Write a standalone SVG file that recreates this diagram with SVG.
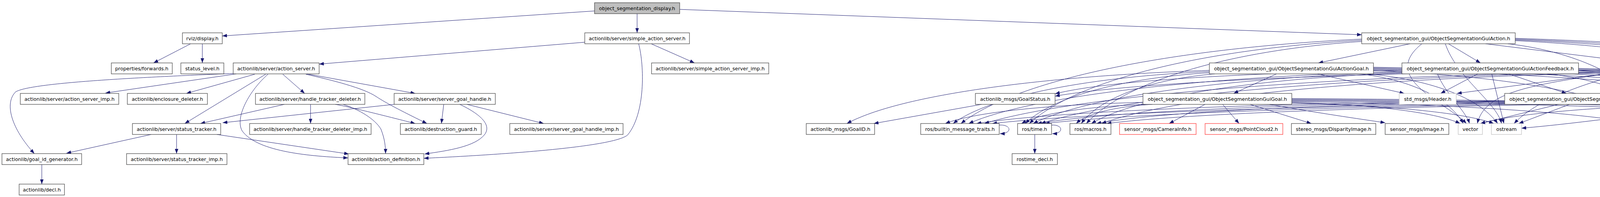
<svg xmlns="http://www.w3.org/2000/svg" width="5503" height="504" viewBox="0 0 5503 504">
<defs>
<marker id="a" viewBox="0 0 12 9" refX="12" refY="4.5" markerWidth="12" markerHeight="9" markerUnits="userSpaceOnUse" orient="auto"><path d="M0,0 L12,4.5 L0,9 z" fill="#191970"/></marker>
<style>
.n rect{fill:#fff;stroke:#404040;stroke-width:1.2}
.n.top rect{fill:#bfbfbf}
.n.gr rect{stroke:#bfbfbf}
.n.rd rect{stroke:#ff3333}
.n text{font-family:"DejaVu Sans","Liberation Sans",sans-serif;font-size:12.7px;text-anchor:middle;fill:#000}
#edges path{fill:none;stroke:#191970;stroke-width:1;marker-end:url(#a)}
</style>
</defs>
<rect width="5503" height="504" fill="#fff"/>
<g id="edges">
<path d="M1522,28 L569,92"/>
<path d="M1631,35 L1631,84"/>
<path d="M1740,24 L3486,89"/>
<path d="M488,112 L393,161"/>
<path d="M518,112 L518,161"/>
<path d="M1497,108 L817,164"/>
<path d="M1667,112 L1778,161"/>
<path d="M1635,112 C1650,170 1652,290 1607,345 C1575,375 1300,395 1085,405"/>
<path d="M605,189 L270,238"/>
<path d="M597,188 C400,196 80,210 40,235 C10,265 30,330 88,393"/>
<path d="M652,190 L477,239"/>
<path d="M680,190 L473,316"/>
<path d="M686,190 C640,230 600,300 620,335 C660,390 800,400 891,404"/>
<path d="M724,190 L780,239"/>
<path d="M785,189 L1063,239"/>
<path d="M783,190 C850,205 930,225 963,247 C990,265 1040,290 1093,316"/>
<path d="M728,267 L513,316"/>
<path d="M795,267 L795,316"/>
<path d="M858,267 C890,272 1000,300 1063,316"/>
<path d="M878,267 C920,280 960,305 975,330 C985,355 987,375 987,393"/>
<path d="M1009,267 L570,314"/>
<path d="M1136,267 L1130,316"/>
<path d="M1177,267 C1230,292 1260,320 1240,345 C1215,375 1150,385 1087,394"/>
<path d="M1195,267 L1392,316"/>
<path d="M387,344 L170,392"/>
<path d="M452,344 L452,393"/>
<path d="M555,344 L893,394"/>
<path d="M107,421 L107,471"/>
<path d="M2513,267 L2237,316"/>
<path d="M3486,100 C3024,122 2614,197 2460,316"/>
<path d="M3486,103 C3103,124 2763,199 2635,316"/>
<path d="M3486,106 C3169,127 2887,201 2781,316"/>
<path d="M3640,112 C3530,200 3700,260 3754,316"/>
<path d="M3700,112 C3730,200 3830,260 3844,316"/>
<path d="M3860,112 C4037,132 4195,204 4254,316"/>
<path d="M3879,104 C4305,125 4683,199 4825,316"/>
<path d="M3879,102 C4392,123 4849,198 5020,316"/>
<path d="M3879,100 C4481,122 5015,197 5216,316"/>
<path d="M3879,98 C4571,120 5185,196 5416,316"/>
<path d="M3610,112 L3375,161"/>
<path d="M3708,112 L3790,161"/>
<path d="M3803,112 L4200,161"/>
<path d="M3373,189 L3595,239"/>
<path d="M3268,189 L3158,239"/>
<path d="M3096,180 C2678,194 2307,241 2168,316"/>
<path d="M3096,183 C2801,196 2538,243 2440,316"/>
<path d="M3096,186 C2884,199 2696,245 2625,316"/>
<path d="M3110,189 C2956,202 2819,246 2768,316"/>
<path d="M3480,189 C3600,202 3706,246 3746,316"/>
<path d="M3500,189 C3650,202 3784,246 3834,316"/>
<path d="M3516,180 C3845,194 4137,241 4247,316"/>
<path d="M3516,178 C4098,192 4616,240 4810,316"/>
<path d="M3516,176 C4184,190 4777,239 5000,316"/>
<path d="M3516,174 C4275,188 4950,238 5203,316"/>
<path d="M3516,172 C4367,186 5124,237 5408,316"/>
<path d="M3783,189 L3688,239"/>
<path d="M3589,180 C3189,186 2834,206 2701,240"/>
<path d="M3862,189 L4010,239"/>
<path d="M3589,183 C3090,196 2646,243 2480,316"/>
<path d="M3589,185 C3164,198 2787,244 2645,316"/>
<path d="M3589,187 C3231,200 2913,245 2794,316"/>
<path d="M3680,189 C3700,240 3750,280 3762,316"/>
<path d="M3819,189 L3850,316"/>
<path d="M3960,189 C4095,202 4216,246 4261,316"/>
<path d="M4041,181 C4401,195 4720,242 4840,316"/>
<path d="M4041,179 C4491,193 4890,241 5040,316"/>
<path d="M4041,177 C4576,191 5051,240 5229,316"/>
<path d="M4041,175 C4663,189 5217,238 5424,316"/>
<path d="M4105,189 L3730,239"/>
<path d="M4100,180 C3470,186 2911,209 2701,246"/>
<path d="M4385,189 L4573,239"/>
<path d="M4100,183 C3389,196 2757,243 2520,316"/>
<path d="M4100,185 C3454,198 2880,244 2665,316"/>
<path d="M4100,187 C3524,200 3012,245 2820,316"/>
<path d="M4110,189 C3900,220 3800,240 3782,316"/>
<path d="M4150,189 C4000,230 3920,270 3876,316"/>
<path d="M4310,189 C4305,240 4285,280 4278,316"/>
<path d="M4430,189 C4584,202 4804,246 4870,316"/>
<path d="M4529,181 C4777,195 4997,242 5080,316"/>
<path d="M4529,179 C4856,193 5146,241 5255,316"/>
<path d="M4529,177 C4900,185 5450,215 5470,250 C5485,280 5470,300 5446,316"/>
<path d="M3085,267 L2993,316"/>
<path d="M3130,267 L3172,316"/>
<path d="M3200,267 L3357,316"/>
<path d="M3250,267 C3350,285 3450,300 3546,314"/>
<path d="M2926,262 C2698,267 2496,286 2420,316"/>
<path d="M2935,267 C2791,272 2663,289 2615,316"/>
<path d="M2950,267 C2862,272 2784,289 2755,316"/>
<path d="M3307,262 C3501,267 3673,286 3738,316"/>
<path d="M3307,264 C3540,269 3746,287 3824,316"/>
<path d="M3307,260 C3727,266 4100,290 4236,326"/>
<path d="M3307,258 C3977,264 4572,284 4782,318"/>
<path d="M3307,256 C4060,262 4729,283 4980,316"/>
<path d="M3307,254 C4154,260 4908,282 5190,316"/>
<path d="M3307,252 C4249,258 5086,281 5397,326"/>
<path d="M3852,258 C3244,264 2703,284 2500,316"/>
<path d="M3852,260 C3313,266 2835,285 2655,316"/>
<path d="M3852,262 C3382,267 2964,286 2807,316"/>
<path d="M3990,267 L3790,316"/>
<path d="M4018,267 L3888,316"/>
<path d="M4100,267 L4236,316"/>
<path d="M4264,258 C4530,264 4766,284 4855,316"/>
<path d="M4264,256 C4622,262 4941,283 5060,316"/>
<path d="M4264,254 C4704,260 5095,282 5242,316"/>
<path d="M4264,252 C4790,258 5380,240 5400,270 C5420,295 5440,305 5436,316"/>
<path d="M4595,267 L4470,316"/>
<path d="M4638,267 L4657,316"/>
<path d="M4673,267 L4807,316"/>
<path d="M4760,267 L4975,316"/>
<path d="M4828,262 C4950,275 5100,295 5180,316"/>
<path d="M4828,258 C5000,270 5250,300 5397,322"/>
<path d="M4438,258 C3584,264 2825,284 2540,316"/>
<path d="M4438,260 C3645,266 2939,285 2675,316"/>
<path d="M4438,262 C3716,267 3074,286 2833,316"/>
<path d="M4438,264 C4146,269 3887,287 3790,316"/>
<path d="M4438,266 C4250,285 4050,315 3895,328"/>
<path d="M4460,267 C4400,290 4330,305 4293,318"/>
<path d="M2558,320 C2590,318 2592,342 2560,342"/>
<path d="M2692,320 C2722,318 2724,342 2694,342"/>
<path d="M4916,318 C4948,316 4950,342 4918,342"/>
<path d="M2649,344 L2649,393"/>
<path d="M4849,344 L4849,393"/>
<path d="M5213,344 L5167,393"/>
<path d="M5243,344 L5288,393"/>
<path d="M5301,421 L5301,471"/>
</g>
<g id="n_display" class="n top"><rect x="1522" y="7" width="218" height="28"/><text x="1631" y="25.5">object_segmentation_display.h</text></g>
<g id="n_rviz_display" class="n"><rect x="467" y="84" width="102" height="28"/><text x="518" y="102.5">rviz/display.h</text></g>
<g id="n_simple_action_server" class="n"><rect x="1497" y="84" width="268" height="28"/><text x="1631" y="102.5">actionlib/server/simple_action_server.h</text></g>
<g id="n_gui_action" class="n"><rect x="3486" y="84" width="393" height="28"/><text x="3682.5" y="102.5">object_segmentation_gui/ObjectSegmentationGuiAction.h</text></g>
<g id="n_forwards" class="n"><rect x="285" y="161" width="156" height="28"/><text x="363" y="179.5">properties/forwards.h</text></g>
<g id="n_status_level" class="n"><rect x="463" y="161" width="110" height="28"/><text x="518" y="179.5">status_level.h</text></g>
<g id="n_action_server" class="n"><rect x="597" y="161" width="220" height="28"/><text x="707" y="179.5">actionlib/server/action_server.h</text></g>
<g id="n_simple_action_server_imp" class="n"><rect x="1668" y="161" width="300" height="28"/><text x="1818" y="179.5">actionlib/server/simple_action_server_imp.h</text></g>
<g id="n_gui_action_goal" class="n"><rect x="3096" y="161" width="420" height="28"/><text x="3306" y="179.5">object_segmentation_gui/ObjectSegmentationGuiActionGoal.h</text></g>
<g id="n_gui_action_feedback" class="n"><rect x="3589" y="161" width="452" height="28"/><text x="3815" y="179.5">object_segmentation_gui/ObjectSegmentationGuiActionFeedback.h</text></g>
<g id="n_gui_action_result" class="n"><rect x="4100" y="161" width="429" height="28"/><text x="4314.5" y="179.5">object_segmentation_gui/ObjectSegmentationGuiActionResult.h</text></g>
<g id="n_action_server_imp" class="n"><rect x="52" y="239" width="252" height="28"/><text x="178" y="257.5">actionlib/server/action_server_imp.h</text></g>
<g id="n_enclosure_deleter" class="n"><rect x="326" y="239" width="205" height="28"/><text x="428.5" y="257.5">actionlib/enclosure_deleter.h</text></g>
<g id="n_handle_tracker_deleter" class="n"><rect x="654" y="239" width="280" height="28"/><text x="794" y="257.5">actionlib/server/handle_tracker_deleter.h</text></g>
<g id="n_server_goal_handle" class="n"><rect x="1009" y="239" width="259" height="28"/><text x="1138.5" y="257.5">actionlib/server/server_goal_handle.h</text></g>
<g id="n_goal_status" class="n"><rect x="2497" y="239" width="204" height="28"/><text x="2599" y="257.5">actionlib_msgs/GoalStatus.h</text></g>
<g id="n_gui_goal" class="n"><rect x="2926" y="239" width="381" height="28"/><text x="3116.5" y="257.5">object_segmentation_gui/ObjectSegmentationGuiGoal.h</text></g>
<g id="n_header" class="n gr"><rect x="3582" y="239" width="146" height="28"/><text x="3655" y="257.5">std_msgs/Header.h</text></g>
<g id="n_gui_feedback" class="n"><rect x="3852" y="239" width="412" height="28"/><text x="4058" y="257.5">object_segmentation_gui/ObjectSegmentationGuiFeedback.h</text></g>
<g id="n_gui_result" class="n"><rect x="4438" y="239" width="390" height="28"/><text x="4633" y="257.5">object_segmentation_gui/ObjectSegmentationGuiResult.h</text></g>
<g id="n_status_tracker" class="n"><rect x="339" y="316" width="226" height="28"/><text x="452" y="334.5">actionlib/server/status_tracker.h</text></g>
<g id="n_handle_tracker_deleter_imp" class="n"><rect x="639" y="316" width="311" height="28"/><text x="794.5" y="334.5">actionlib/server/handle_tracker_deleter_imp.h</text></g>
<g id="n_destruction_guard" class="n"><rect x="1025" y="316" width="207" height="28"/><text x="1128.5" y="334.5">actionlib/destruction_guard.h</text></g>
<g id="n_server_goal_handle_imp" class="n"><rect x="1305" y="316" width="290" height="28"/><text x="1450" y="334.5">actionlib/server/server_goal_handle_imp.h</text></g>
<g id="n_goal_id" class="n"><rect x="2064" y="316" width="175" height="28"/><text x="2151.5" y="334.5">actionlib_msgs/GoalID.h</text></g>
<g id="n_builtin_message_traits" class="n"><rect x="2357" y="316" width="201" height="28"/><text x="2457.5" y="334.5">ros/builtin_message_traits.h</text></g>
<g id="n_time" class="n"><rect x="2605" y="316" width="87" height="28"/><text x="2648.5" y="334.5">ros/time.h</text></g>
<g id="n_macros" class="n"><rect x="2739" y="316" width="105" height="28"/><text x="2791.5" y="334.5">ros/macros.h</text></g>
<g id="n_camera_info" class="n rd"><rect x="2866" y="316" width="196" height="28"/><text x="2964" y="334.5">sensor_msgs/CameraInfo.h</text></g>
<g id="n_point_cloud2" class="n rd"><rect x="3085" y="316" width="199" height="28"/><text x="3184.5" y="334.5">sensor_msgs/PointCloud2.h</text></g>
<g id="n_disparity_image" class="n"><rect x="3306" y="316" width="216" height="28"/><text x="3414" y="334.5">stereo_msgs/DisparityImage.h</text></g>
<g id="n_image" class="n"><rect x="3546" y="316" width="163" height="28"/><text x="3627.5" y="334.5">sensor_msgs/Image.h</text></g>
<g id="n_vector" class="n gr"><rect x="3733" y="316" width="62" height="28"/><text x="3764" y="334.5">vector</text></g>
<g id="n_ostream" class="n gr"><rect x="3818" y="316" width="77" height="28"/><text x="3856.5" y="334.5">ostream</text></g>
<g id="n_string" class="n gr"><rect x="4236" y="316" width="57" height="28"/><text x="4264.5" y="334.5">string</text></g>
<g id="n_table" class="n"><rect x="4316" y="316" width="229" height="28"/><text x="4430.5" y="334.5">tabletop_object_detector/Table.h</text></g>
<g id="n_point_cloud" class="n rd"><rect x="4569" y="316" width="191" height="28"/><text x="4664.5" y="334.5">sensor_msgs/PointCloud.h</text></g>
<g id="n_serialization" class="n"><rect x="4782" y="316" width="134" height="28"/><text x="4849" y="334.5">ros/serialization.h</text></g>
<g id="n_message_operations" class="n"><rect x="4964" y="316" width="192" height="28"/><text x="5060" y="334.5">ros/message_operations.h</text></g>
<g id="n_assert" class="n"><rect x="5180" y="316" width="97" height="28"/><text x="5228.5" y="334.5">ros/assert.h</text></g>
<g id="n_map" class="n gr"><rect x="5397" y="316" width="51" height="28"/><text x="5422.5" y="334.5">map</text></g>
<g id="n_goal_id_generator" class="n"><rect x="5" y="393" width="204" height="28"/><text x="107" y="411.5">actionlib/goal_id_generator.h</text></g>
<g id="n_status_tracker_imp" class="n"><rect x="324" y="393" width="257" height="28"/><text x="452.5" y="411.5">actionlib/server/status_tracker_imp.h</text></g>
<g id="n_action_definition" class="n"><rect x="891" y="393" width="194" height="28"/><text x="988" y="411.5">actionlib/action_definition.h</text></g>
<g id="n_rostime_decl" class="n"><rect x="2591" y="393" width="116" height="28"/><text x="2649" y="411.5">rostime_decl.h</text></g>
<g id="n_roscpp_serialization_macros" class="n"><rect x="4742" y="393" width="215" height="28"/><text x="4849.5" y="411.5">roscpp_serialization_macros.h</text></g>
<g id="n_static_assert" class="n"><rect x="5085" y="393" width="140" height="28"/><text x="5155" y="411.5">ros/static_assert.h</text></g>
<g id="n_console" class="n"><rect x="5248" y="393" width="107" height="28"/><text x="5301.5" y="411.5">ros/console.h</text></g>
<g id="n_decl" class="n"><rect x="49" y="471" width="116" height="28"/><text x="107" y="489.5">actionlib/decl.h</text></g>
<g id="n_macros_generated" class="n"><rect x="5188" y="471" width="228" height="28"/><text x="5302" y="489.5">rosconsole/macros_generated.h</text></g>
</svg>
